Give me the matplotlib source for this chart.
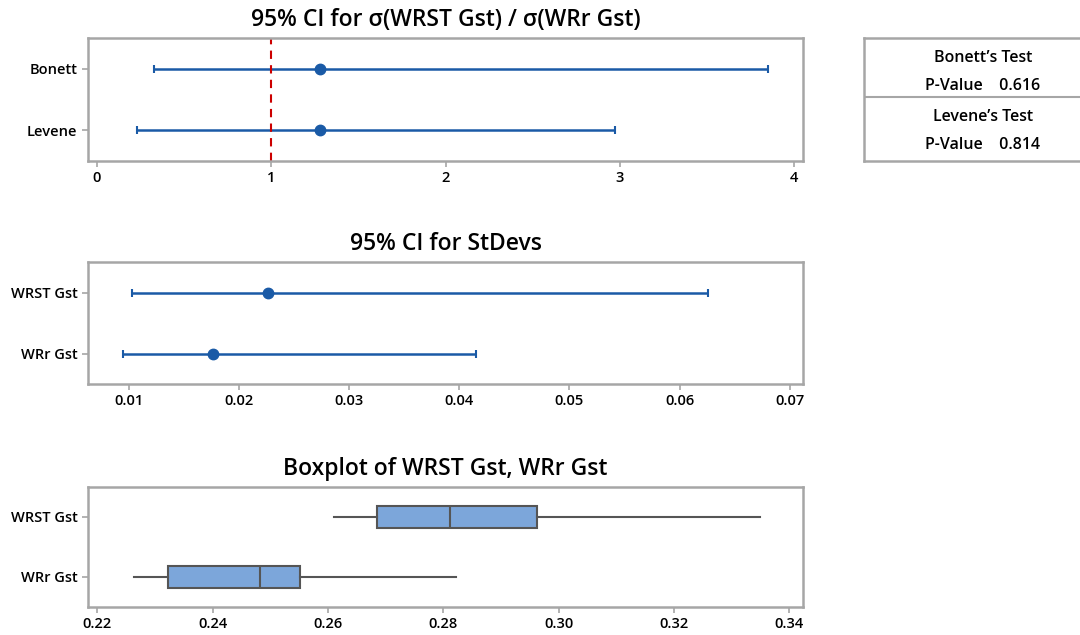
import numpy as np
import matplotlib
matplotlib.use('Agg')
import matplotlib.pyplot as plt

# ratio CI (top panel)
ratio_methods = ['Bonett', 'Levene']
ratio_est = [1.28, 1.28]
ratio_low = [0.33, 0.23]
ratio_high = [3.85, 2.97]

# StDev CI (middle panel)
groups = ['WRST Gst', 'WRr Gst']
sd_est = [0.0226, 0.0176]
sd_low = [0.0103, 0.0095]
sd_high = [0.0626, 0.0415]

# boxplot stats (bottom panel)
box_low = [0.2610, 0.2264]
box_q1 = [0.2686, 0.2323]
box_med = [0.2812, 0.2482]
box_q3 = [0.2962, 0.2551]
box_high = [0.3350, 0.2823]

# test table
tests = ["Bonett\u2019s Test", "Levene\u2019s Test"]
pvals = [0.616, 0.814]

plt.rcParams['font.family'] = ['Open Sans', 'DejaVu Sans']
blue = '#1a5aa6'
frame = '#a6a6a6'
title_kw = dict(fontsize=16.5, fontweight='semibold', pad=8.5)

fig = plt.figure(figsize=(10.8, 6.35), dpi=100)


def style(ax):
    for s in ax.spines.values():
        s.set_color(frame)
        s.set_linewidth(1.8)
    ax.tick_params(axis='both', colors=frame, labelcolor='black', labelsize=10.5, length=4, width=1.2)
    for lab in ax.get_xticklabels() + ax.get_yticklabels():
        lab.set_fontweight('semibold')


def ci_panel(ax, names, est, low, high):
    y = np.arange(len(names))
    est = np.array(est)
    err = [est - np.array(low), np.array(high) - est]
    ax.errorbar(est, y, xerr=err, fmt='o', color=blue, ms=7.5, elinewidth=1.8,
                capsize=3, capthick=1.5)
    ax.set_yticks(y)
    ax.set_yticklabels(names)
    ax.set_ylim(len(names) - 0.5, -0.5)


ax1 = fig.add_axes([0.0815, 0.7465, 0.662, 0.1937])
ci_panel(ax1, ratio_methods, ratio_est, ratio_low, ratio_high)
ax1.axvline(1, color='#cc0000', ls='--', lw=1.5, dashes=(4, 3))
ax1.set_xlim(-0.05, 4.05)
ax1.set_xticks([0, 1, 2, 3, 4])
ax1.set_title('95% CI for \u03c3(WRST Gst) / \u03c3(WRr Gst)', **title_kw)
style(ax1)

ax2 = fig.add_axes([0.0815, 0.3953, 0.662, 0.192])
ci_panel(ax2, groups, sd_est, sd_low, sd_high)
ax2.set_xlim(0.0063, 0.0712)
ax2.set_xticks([0.01, 0.02, 0.03, 0.04, 0.05, 0.06, 0.07])
ax2.set_xticklabels(['0.01', '0.02', '0.03', '0.04', '0.05', '0.06', '0.07'])
ax2.set_title('95% CI for StDevs', **title_kw)
style(ax2)

ax3 = fig.add_axes([0.0815, 0.0441, 0.662, 0.189])
stats = []
for i, g in enumerate(groups):
    stats.append(dict(label=g, whislo=box_low[i], q1=box_q1[i], med=box_med[i],
                      q3=box_q3[i], whishi=box_high[i], fliers=[]))
ax3.bxp(stats, positions=[0, 1], vert=False, widths=0.37, patch_artist=True,
        showcaps=False,
        boxprops=dict(facecolor='#7ca6da', edgecolor='#555555', lw=1.5),
        medianprops=dict(color='#555555', lw=1.5),
        whiskerprops=dict(color='#555555', lw=1.5))
ax3.set_ylim(1.5, -0.5)
ax3.set_xlim(0.2184, 0.3424)
ax3.set_xticks([0.22, 0.24, 0.26, 0.28, 0.30, 0.32, 0.34])
ax3.set_xticklabels(['0.22', '0.24', '0.26', '0.28', '0.30', '0.32', '0.34'])
ax3.set_title('Boxplot of WRST Gst, WRr Gst', **title_kw)
style(ax3)

# p-value table
axt = fig.add_axes([0.8, 0.7465, 0.25, 0.1937])
axt.set_xlim(0, 1)
axt.set_ylim(0, 1)
axt.set_xticks([])
axt.set_yticks([])
for s in axt.spines.values():
    s.set_color(frame)
    s.set_linewidth(1.8)
axt.axhline(0.52, color=frame, lw=1.5)
for i, (t, p) in enumerate(zip(tests, pvals)):
    top = 0.84 - i * 0.48
    axt.text(0.44, top, t, ha='center', va='center', fontsize=11.5, fontweight='semibold')
    axt.text(0.44, top - 0.23, f'P-Value    {p:.3f}', ha='center', va='center',
             fontsize=11.5, fontweight='semibold')

fig.savefig('out.png', dpi=100)
